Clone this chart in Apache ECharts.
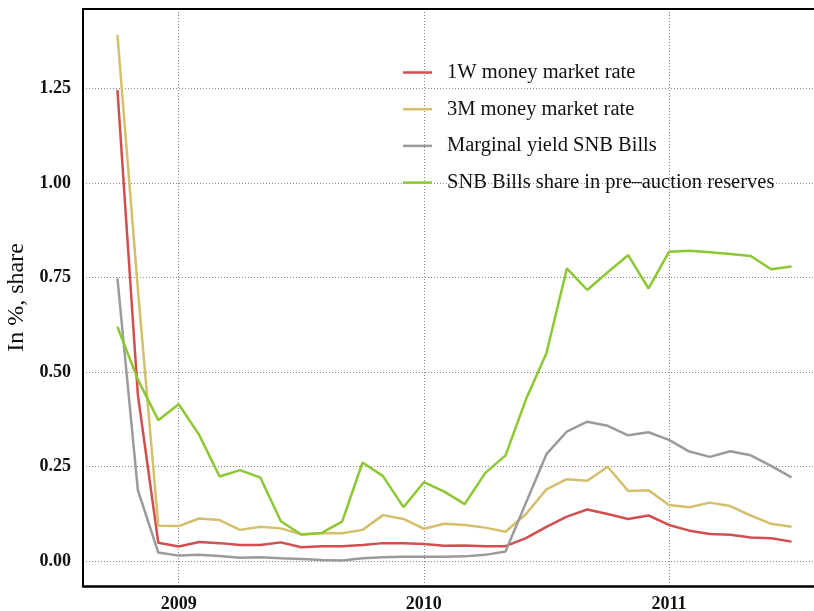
<!DOCTYPE html>
<html>
<head>
<meta charset="UTF-8">
<title>SNB Bills and money market rates</title>
<script type="text/javascript" src="https://cdn.jsdelivr.net/npm/echarts@6/dist/echarts.min.js"></script>
<style>
  body{margin:0}
</style>
</head>
<body>
<div id="main" style="width:814px;height:611px"></div>
<script type="text/javascript">
// monthly observations, Oct 2008 - Jul 2011
var months = ['2008-10','2008-11','2008-12',
  '2009-01','2009-02','2009-03','2009-04','2009-05','2009-06','2009-07','2009-08','2009-09','2009-10','2009-11','2009-12',
  '2010-01','2010-02','2010-03','2010-04','2010-05','2010-06','2010-07','2010-08','2010-09','2010-10','2010-11','2010-12',
  '2011-01','2011-02','2011-03','2011-04','2011-05','2011-06','2011-07'];

var oneWeek = [1.246, 0.44, 0.049,
  0.039, 0.051, 0.048, 0.043, 0.043, 0.050, 0.037, 0.040, 0.040, 0.043, 0.048, 0.048,
  0.046, 0.041, 0.042, 0.040, 0.040, 0.061, 0.091, 0.118, 0.137, 0.125, 0.112, 0.121,
  0.096, 0.081, 0.072, 0.070, 0.063, 0.061, 0.052];

var threeMonth = [1.391, 0.72, 0.094,
  0.093, 0.113, 0.109, 0.083, 0.091, 0.087, 0.071, 0.074, 0.074, 0.083, 0.122, 0.112,
  0.086, 0.099, 0.096, 0.089, 0.078, 0.125, 0.190, 0.217, 0.213, 0.250, 0.186, 0.188,
  0.149, 0.143, 0.155, 0.146, 0.121, 0.099, 0.091];

var snbYield = [0.748, 0.188, 0.023,
  0.015, 0.017, 0.014, 0.0095, 0.011, 0.008, 0.006, 0.0035, 0.002, 0.008, 0.011, 0.012,
  0.012, 0.012, 0.013, 0.017, 0.026, 0.155, 0.283, 0.343, 0.369, 0.358, 0.333, 0.341,
  0.321, 0.290, 0.276, 0.291, 0.280, 0.252, 0.222];

var snbShare = [0.62, 0.48, 0.373,
  0.415, 0.334, 0.224, 0.241, 0.221, 0.106, 0.071, 0.075, 0.105, 0.261, 0.225, 0.143,
  0.209, 0.184, 0.151, 0.233, 0.280, 0.428, 0.55, 0.774, 0.717, 0.764, 0.809, 0.721,
  0.818, 0.821, 0.817, 0.812, 0.807, 0.772, 0.779];

var yearTicks = [2009, 2010, 2011];
var yTicks = [0, 0.25, 0.5, 0.75, 1, 1.25];

var seriesNames = ['1W money market rate', '3M money market rate', 'Marginal yield SNB Bills', 'SNB Bills share in pre\u2013auction reserves'];
var seriesColors = ['#d24f4f', '#d4c06c', '#9b9b9b', '#8dc832'];

function toYear(m) {
	var p = m.split('-');
	return +p[0] + (p[1] - 1) / 12;
}
function pairs(vals) {
	return months.map(function (m, i) { return [toYear(m), vals[i]]; });
}

var font = 'Liberation Serif';
var xMin = 2008.6095, xMax = 2011.5916;
var dotted = {color: '#8a8a8a', width: 1, type: [1, 2]};

var myChart = echarts.init(document.getElementById('main'));

var allData = [oneWeek, threeMonth, snbYield, snbShare];

option = {
	animation: false,
	grid: {left: 83, top: 9, right: 0, bottom: 25, outerBoundsMode: 'none'},
	legend: {
		orient: 'vertical',
		left: 398,
		top: 57,
		icon: 'rect',
		itemWidth: 29,
		itemHeight: 2.5,
		itemGap: 15.7,
		textStyle: {fontFamily: font, fontSize: 20.5, color: '#111', padding: [0, 0, 0, 10]},
		data: seriesNames
	},
	xAxis: [{
		type: 'value',
		min: xMin,
		max: xMax,
		axisLine: {onZero: false, lineStyle: {color: '#000', width: 2.5}},
		axisTick: {show: false, customValues: yearTicks},
		axisLabel: {
			customValues: yearTicks,
			formatter: function (v) { return String(Math.round(v)); },
			fontFamily: font, fontSize: 18, fontWeight: 'bold', color: '#111', margin: 9
		},
		splitLine: {show: true, lineStyle: dotted}
	}, {
		// top frame line only
		type: 'value',
		position: 'top',
		min: xMin,
		max: xMax,
		axisLine: {show: true, onZero: false, lineStyle: {color: '#000', width: 2}},
		axisTick: {show: false},
		axisLabel: {show: false},
		splitLine: {show: false}
	}],
	yAxis: {
		type: 'value',
		min: -0.0653,
		max: 1.4596,
		name: 'In %, share',
		nameLocation: 'middle',
		nameGap: 48,
		nameTextStyle: {fontFamily: font, fontSize: 24, color: '#111'},
		axisLine: {show: true, onZero: false, lineStyle: {color: '#000', width: 2}},
		axisTick: {show: false, customValues: yTicks},
		axisLabel: {
			customValues: yTicks,
			formatter: function (v) { return v.toFixed(2); },
			fontFamily: font, fontSize: 18, fontWeight: 'bold', color: '#111', margin: 12
		},
		splitLine: {show: true, lineStyle: dotted}
	},
	series: seriesNames.map(function (name, i) {
		return {
			name: name,
			type: 'line',
			symbol: 'none',
			color: seriesColors[i],
			lineStyle: {width: 2.5, color: seriesColors[i]},
			data: pairs(allData[i])
		};
	})
};

myChart.setOption(option);
</script>
</body>
</html>
